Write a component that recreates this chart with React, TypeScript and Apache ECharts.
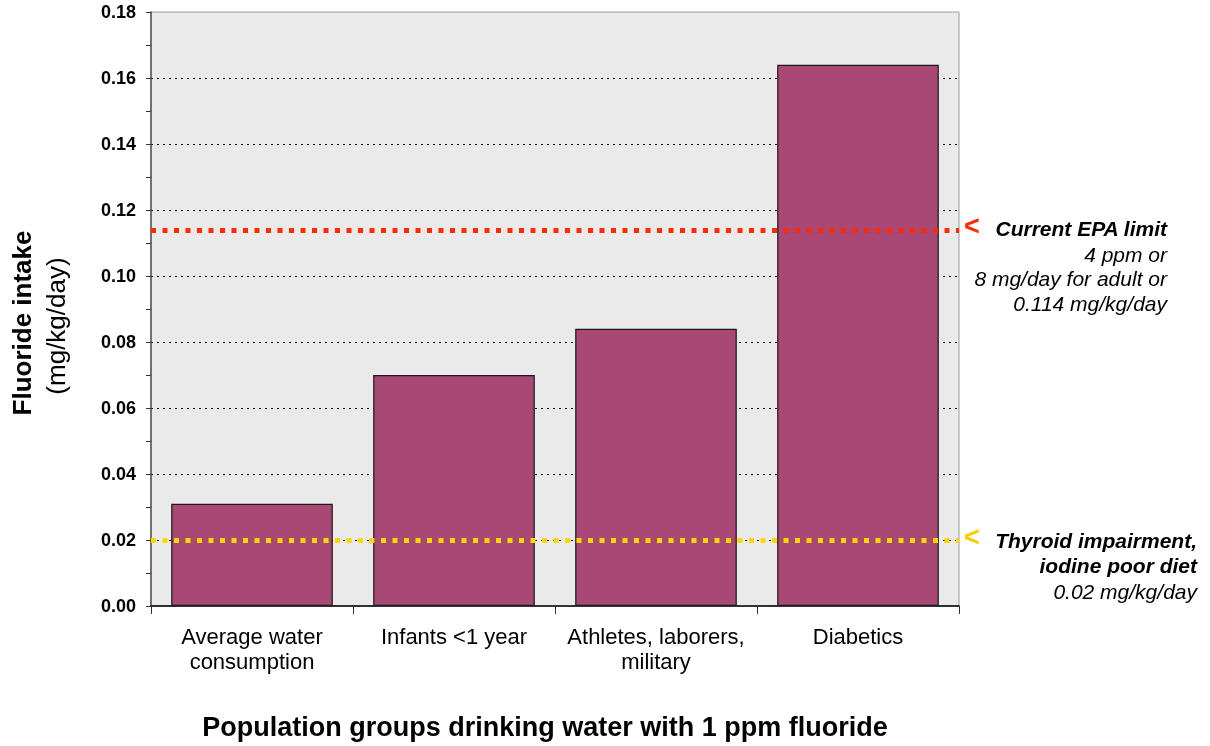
import React, { useEffect, useRef } from "react";
import * as echarts from "echarts";

const categories = [
  "Average water\nconsumption",
  "Infants <1 year",
  "Athletes, laborers,\nmilitary",
  "Diabetics",
];
const intake = [0.031, 0.07, 0.084, 0.164];
const epaLimit = 0.114;
const thyroidLimit = 0.02;
const yTicks = { min: 0, max: 0.18, interval: 0.02 };

const FONT = "Liberation Sans, Arial, sans-serif";

export default function App() {
  const ref = useRef<HTMLDivElement>(null);
  useEffect(() => {
    if (!ref.current) return;
    const chart = echarts.init(ref.current, null, { renderer: "svg" });
    const gridLeft = 151;
    const gridTop = 12;
    const gridW = 808;
    const gridH = 594;
    chart.setOption({
      animation: false,
      textStyle: { fontFamily: FONT },
      grid: {
        left: gridLeft,
        top: gridTop,
        width: gridW,
        height: gridH,
        show: true,
        backgroundColor: "#eaeaea",
        borderColor: "#9a9a9a",
        borderWidth: 1,
      },
      xAxis: {
        type: "category",
        data: categories,
        axisLine: { lineStyle: { color: "#000", width: 1.5 } },
        axisTick: { show: true, interval: 0, alignWithLabel: false, length: 8, lineStyle: { color: "#333" } },
        axisLabel: {
          color: "#000",
          fontSize: 22,
          fontFamily: FONT,
          interval: 0,
          margin: 18,
          lineHeight: 25,
        },
        splitLine: { show: false },
      },
      yAxis: {
        type: "value",
        min: yTicks.min,
        max: yTicks.max,
        interval: yTicks.interval,
        axisLine: { show: true, lineStyle: { color: "#555", width: 1.5 } },
        axisTick: { show: true, length: 5, lineStyle: { color: "#333" } },
        minorTick: { show: true, splitNumber: 2, length: 5, lineStyle: { color: "#333" } },
        axisLabel: {
          color: "#000",
          fontSize: 18,
          fontWeight: "bold",
          fontFamily: FONT,
          margin: 15,
          formatter: (v: number) => v.toFixed(2),
        },
        splitLine: {
          show: true,
          showMinLine: false,
          showMaxLine: false,
          lineStyle: { color: "#000", type: [2, 4], width: 1 },
        },
      },
      series: [
        {
          type: "bar",
          data: intake,
          barCategoryGap: "20%",
          itemStyle: { color: "#a94875", borderColor: "#1a1a1a", borderWidth: 1.2 },
          markLine: {
            silent: true,
            symbol: "none",
            precision: 3,
            label: { show: false },
            data: [
              { yAxis: epaLimit, lineStyle: { color: "#ff2a00", type: [5, 6.5], width: 5 } },
              { yAxis: thyroidLimit, lineStyle: { color: "#ffd700", type: [5, 6.5], width: 5 } },
            ],
          },
        },
      ],
    });

    const yEpa = chart.convertToPixel({ yAxisIndex: 0 }, epaLimit) as number;
    const yThy = chart.convertToPixel({ yAxisIndex: 0 }, thyroidLimit) as number;

    chart.setOption({
      graphic: [
        {
          type: "text",
          x: 22,
          y: 323,
          rotation: Math.PI / 2,
          style: {
            text: "Fluoride intake",
            font: `bold 26px ${FONT}`,
            fill: "#000",
            align: "center",
            verticalAlign: "middle",
          },
        },
        {
          type: "text",
          x: 56,
          y: 326,
          rotation: Math.PI / 2,
          style: {
            text: "(mg/kg/day)",
            font: `26px ${FONT}`,
            fill: "#000",
            align: "center",
            verticalAlign: "middle",
          },
        },
        {
          type: "text",
          x: 545,
          y: 727,
          style: {
            text: "Population groups drinking water with 1 ppm fluoride",
            font: `bold 27px ${FONT}`,
            fill: "#000",
            align: "center",
            verticalAlign: "middle",
          },
        },
        {
          type: "text",
          x: 964,
          y: yEpa - 4,
          style: { text: "<", font: `bold 27px ${FONT}`, fill: "#ff2a00", align: "left", verticalAlign: "middle" },
        },
        {
          type: "text",
          x: 1167,
          y: yEpa - 1,
          style: {
            text: "Current EPA limit",
            font: `italic bold 21px ${FONT}`,
            fill: "#000",
            align: "right",
            verticalAlign: "middle",
          },
        },
        {
          type: "text",
          x: 1167,
          y: yEpa + 12,
          style: {
            text: "4 ppm or\n8 mg/day for adult or\n0.114 mg/kg/day",
            font: `italic 21px ${FONT}`,
            lineHeight: 24.5,
            fill: "#000",
            align: "right",
            verticalAlign: "top",
          },
        },
        {
          type: "text",
          x: 964,
          y: yThy - 3,
          style: { text: "<", font: `bold 27px ${FONT}`, fill: "#ffcc00", align: "left", verticalAlign: "middle" },
        },
        {
          type: "text",
          x: 1197,
          y: yThy - 12.5,
          style: {
            text: "Thyroid impairment,\niodine poor diet",
            font: `italic bold 21px ${FONT}`,
            lineHeight: 25,
            fill: "#000",
            align: "right",
            verticalAlign: "top",
          },
        },
        {
          type: "text",
          x: 1197,
          y: yThy + 51,
          style: {
            text: "0.02 mg/kg/day",
            font: `italic 21px ${FONT}`,
            fill: "#000",
            align: "right",
            verticalAlign: "middle",
          },
        },
      ],
    });

    return () => chart.dispose();
  }, []);
  return (
    <div
      ref={ref}
      style={{ position: "fixed", left: 0, top: 0, width: 1210, height: 746 }}
    />
  );
}
